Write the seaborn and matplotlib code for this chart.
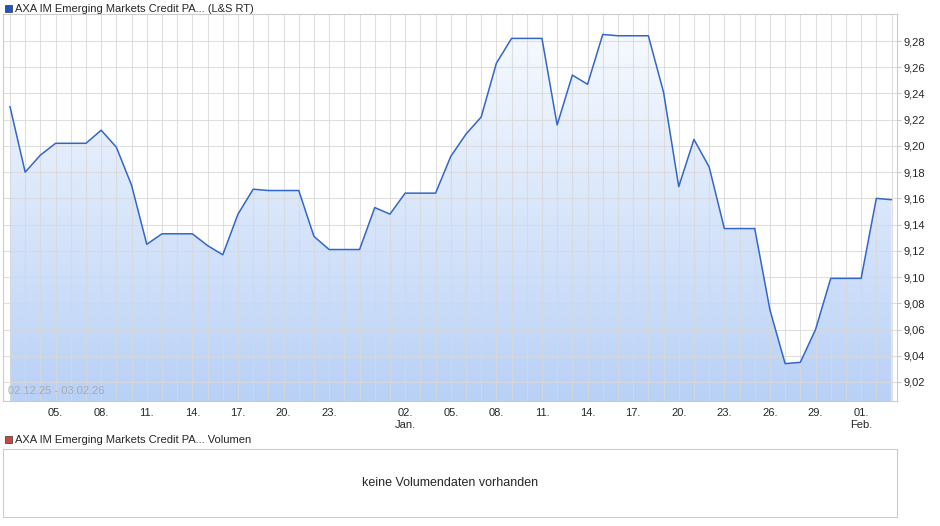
import numpy as np
import pandas as pd
import matplotlib
matplotlib.use("Agg")
import matplotlib.pyplot as plt
import seaborn as sns
from matplotlib.patches import Polygon, Rectangle
from matplotlib.colors import LinearSegmentedColormap

values = [9.230, 9.180, 9.193, 9.202, 9.202, 9.202, 9.212, 9.199, 9.170, 9.125,
          9.133, 9.133, 9.133, 9.124, 9.117, 9.148, 9.167, 9.166, 9.166, 9.166,
          9.131, 9.121, 9.121, 9.121, 9.153, 9.148, 9.164, 9.164, 9.164, 9.192,
          9.209, 9.222, 9.263, 9.282, 9.282, 9.282, 9.216, 9.254, 9.247, 9.285,
          9.284, 9.284, 9.284, 9.241, 9.169, 9.205, 9.184, 9.137, 9.137, 9.137,
          9.075, 9.034, 9.035, 9.060, 9.099, 9.099, 9.099, 9.160, 9.159]
tick_pos = [3, 6, 9, 12, 15, 18, 21, 26, 29, 32, 35, 38, 41, 44, 47, 50, 53, 56]
tick_labels = ["05.", "08.", "11.", "14.", "17.", "20.", "23.", "02.\nJan.", "05.", "08.",
               "11.", "14.", "17.", "20.", "23.", "26.", "29.", "01.\nFeb."]
yticks = [9.02, 9.04, 9.06, 9.08, 9.10, 9.12, 9.14, 9.16, 9.18, 9.20, 9.22, 9.24, 9.26, 9.28]

df = pd.DataFrame({"i": np.arange(len(values)), "v": values})
sns.set_style("white")
plt.rcParams['font.family'] = ['Liberation Sans', 'DejaVu Sans']

fig = plt.figure(figsize=(9.4, 5.26), dpi=100)
ax = fig.add_axes([3/940, 1-401/526, 894/940, 387/526])
x0, x1 = -0.46, 58.36
y0, y1 = 9.0055, 9.3006
ax.set_xlim(x0, x1); ax.set_ylim(y0, y1)

grad = np.linspace(1, 0, 256).reshape(-1, 1)  # row 0 at bottom -> dark
cmap = LinearSegmentedColormap.from_list("g", ["#fafcff", "#b9d1f7"])
im = ax.imshow(grad, aspect="auto", cmap=cmap, extent=[x0, x1, y0, y1], origin="lower", zorder=1)
poly = Polygon(np.column_stack([np.r_[df.i, df.i.iloc[-1], 0], np.r_[df.v, y0, y0]]),
               closed=True, transform=ax.transData, facecolor="none", edgecolor="none")
ax.add_patch(poly)
im.set_clip_path(poly)

for k in range(len(values)):
    ax.axvline(k, color="#d8d8d8", lw=0.8, zorder=1.5, alpha=0.8)
for t in yticks:
    ax.axhline(t, color="#d8d8d8", lw=0.8, zorder=1.5, alpha=0.8)
sns.lineplot(data=df, x="i", y="v", ax=ax, color="#3366cc", lw=1.1, zorder=3)

ax.yaxis.tick_right()
ax.set_yticks(yticks)
ax.set_yticklabels([f"{t:.2f}".replace(".", ",") for t in yticks], fontsize=8)
ax.set_xticks(tick_pos)
ax.set_xticklabels(tick_labels, fontsize=8)
ax.tick_params(axis="both", length=3, color="#cccccc", pad=2)
ax.set_xlabel(""); ax.set_ylabel("")
for s in ax.spines.values():
    s.set_color("#cccccc"); s.set_linewidth(0.8)
ax.text(0.006, 0.018, "02.12.25 - 03.02.26", transform=ax.transAxes, fontsize=8, color="#aaaaaa", zorder=5)

fig.patches.append(Rectangle((5/940, 1-12/526), 7/940, 7/526, transform=fig.transFigure,
                             facecolor="#2255bb", edgecolor="#333333", lw=0.5))
fig.text(15/940, 1-9/526, "AXA IM Emerging Markets Credit PA... (L&S RT)", fontsize=8, va="center")
fig.patches.append(Rectangle((5/940, 1-443/526), 7/940, 7/526, transform=fig.transFigure,
                             facecolor="#cc4444", edgecolor="#333333", lw=0.5))
fig.text(15/940, 1-440/526, "AXA IM Emerging Markets Credit PA... Volumen", fontsize=8, va="center")

ax2 = fig.add_axes([3/940, 1-517/526, 894/940, 68/526])
ax2.set_xticks([]); ax2.set_yticks([])
for s in ax2.spines.values():
    s.set_color("#cccccc"); s.set_linewidth(0.8)
ax2.text(0.5, 0.5, "keine Volumendaten vorhanden", ha="center", va="center", fontsize=9, transform=ax2.transAxes)

fig.savefig("out.png", dpi=100)
